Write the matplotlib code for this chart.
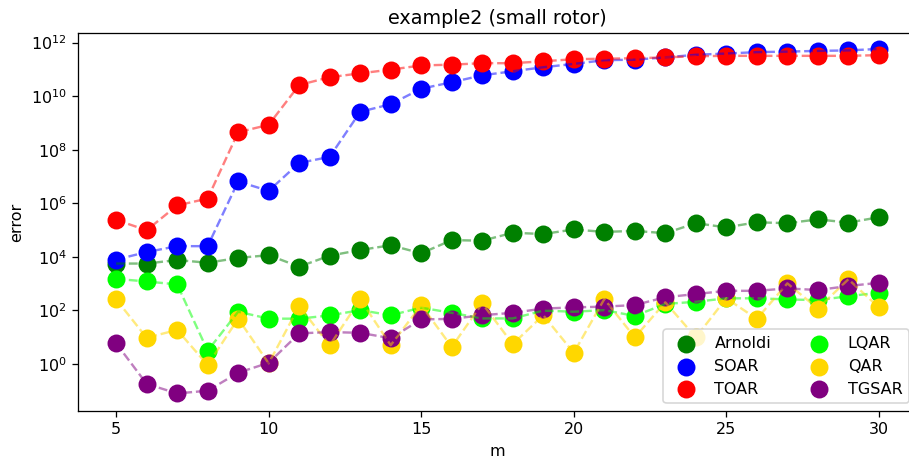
import matplotlib
matplotlib.use("Agg")
import matplotlib.pyplot as plt
from matplotlib.ticker import NullLocator

m = list(range(5, 31))

arnoldi = [5.6e3, 5.6e3, 7.6e3, 6.0e3, 9.1e3, 1.15e4, 4.3e3, 1.1e4, 1.8e4, 2.7e4,
           1.35e4, 4.2e4, 4.0e4, 7.9e4, 7.1e4, 1.05e5, 8.5e4, 9.3e4, 7.6e4, 1.8e5,
           1.26e5, 1.95e5, 1.8e5, 2.5e5, 1.9e5, 3.0e5]
soar = [7.9e3, 1.5e4, 2.5e4, 2.5e4, 6.5e6, 2.9e6, 3.2e7, 5.4e7, 2.6e9, 5.0e9,
        1.9e10, 3.3e10, 6.0e10, 8.5e10, 1.2e11, 1.6e11, 2.2e11, 2.3e11, 2.8e11, 3.5e11,
        3.9e11, 4.4e11, 4.6e11, 4.9e11, 5.1e11, 5.8e11]
toar = [2.4e5, 9.8e4, 8.3e5, 1.5e6, 4.5e8, 8.5e8, 2.6e10, 5.1e10, 7.1e10, 9.8e10,
        1.4e11, 1.5e11, 1.7e11, 1.7e11, 2.0e11, 2.4e11, 2.5e11, 2.6e11, 2.8e11, 3.1e11,
        3.2e11, 3.2e11, 3.2e11, 3.2e11, 3.2e11, 3.4e11]
lqar = [1.5e3, 1.2e3, 9.3e2, 3.1, 89, 49, 49, 65, 102, 66,
        126, 81, 50, 50, 98, 89, 102, 62, 174, 209,
        282, 282, 257, 240, 339, 457]
qar = [257, 9.5, 18.6, 0.91, 49, 1.05, 145, 4.9, 257, 5.0,
       158, 4.3, 182, 5.5, 66, 2.6, 263, 9.8, 200, 9.8,
       282, 48, 1020, 117, 1450, 129]
tgsar = [5.9, 0.18, 0.079, 0.1, 0.47, 1.1, 13.8, 15.5, 14.5, 9.1,
         46, 48, 66, 81, 117, 129, 138, 158, 309, 407,
         537, 537, 661, 575, 813, 1070]

labels = ["Arnoldi", "SOAR", "TOAR", "LQAR", "QAR", "TGSAR"]
series = [arnoldi, soar, toar, lqar, qar, tgsar]
colors = ["green", "blue", "red", "lime", "gold", "purple"]

DPI = 115
fig = plt.figure(figsize=(909 / DPI, 465 / DPI), dpi=DPI)
ax = fig.add_axes([0.0858, 0.116, 0.923, 0.812])

for lab, ys, c in zip(labels, series, colors):
    ax.scatter(m, ys, s=105, color=c, label=lab)
    ax.plot(m, ys, "--", color=c, alpha=0.5, linewidth=1.5)

ax.set_yscale("log")
ax.yaxis.set_minor_locator(NullLocator())
ax.set_xlim(3.75, 31.25)
ax.set_ylim(10 ** -1.76, 10 ** 12.34)
ax.set_title("example2 (small rotor)")
ax.set_xlabel("m")
ax.set_ylabel("error")
ax.legend(loc="lower right", ncol=2)

fig.savefig("out.png", dpi=DPI)
